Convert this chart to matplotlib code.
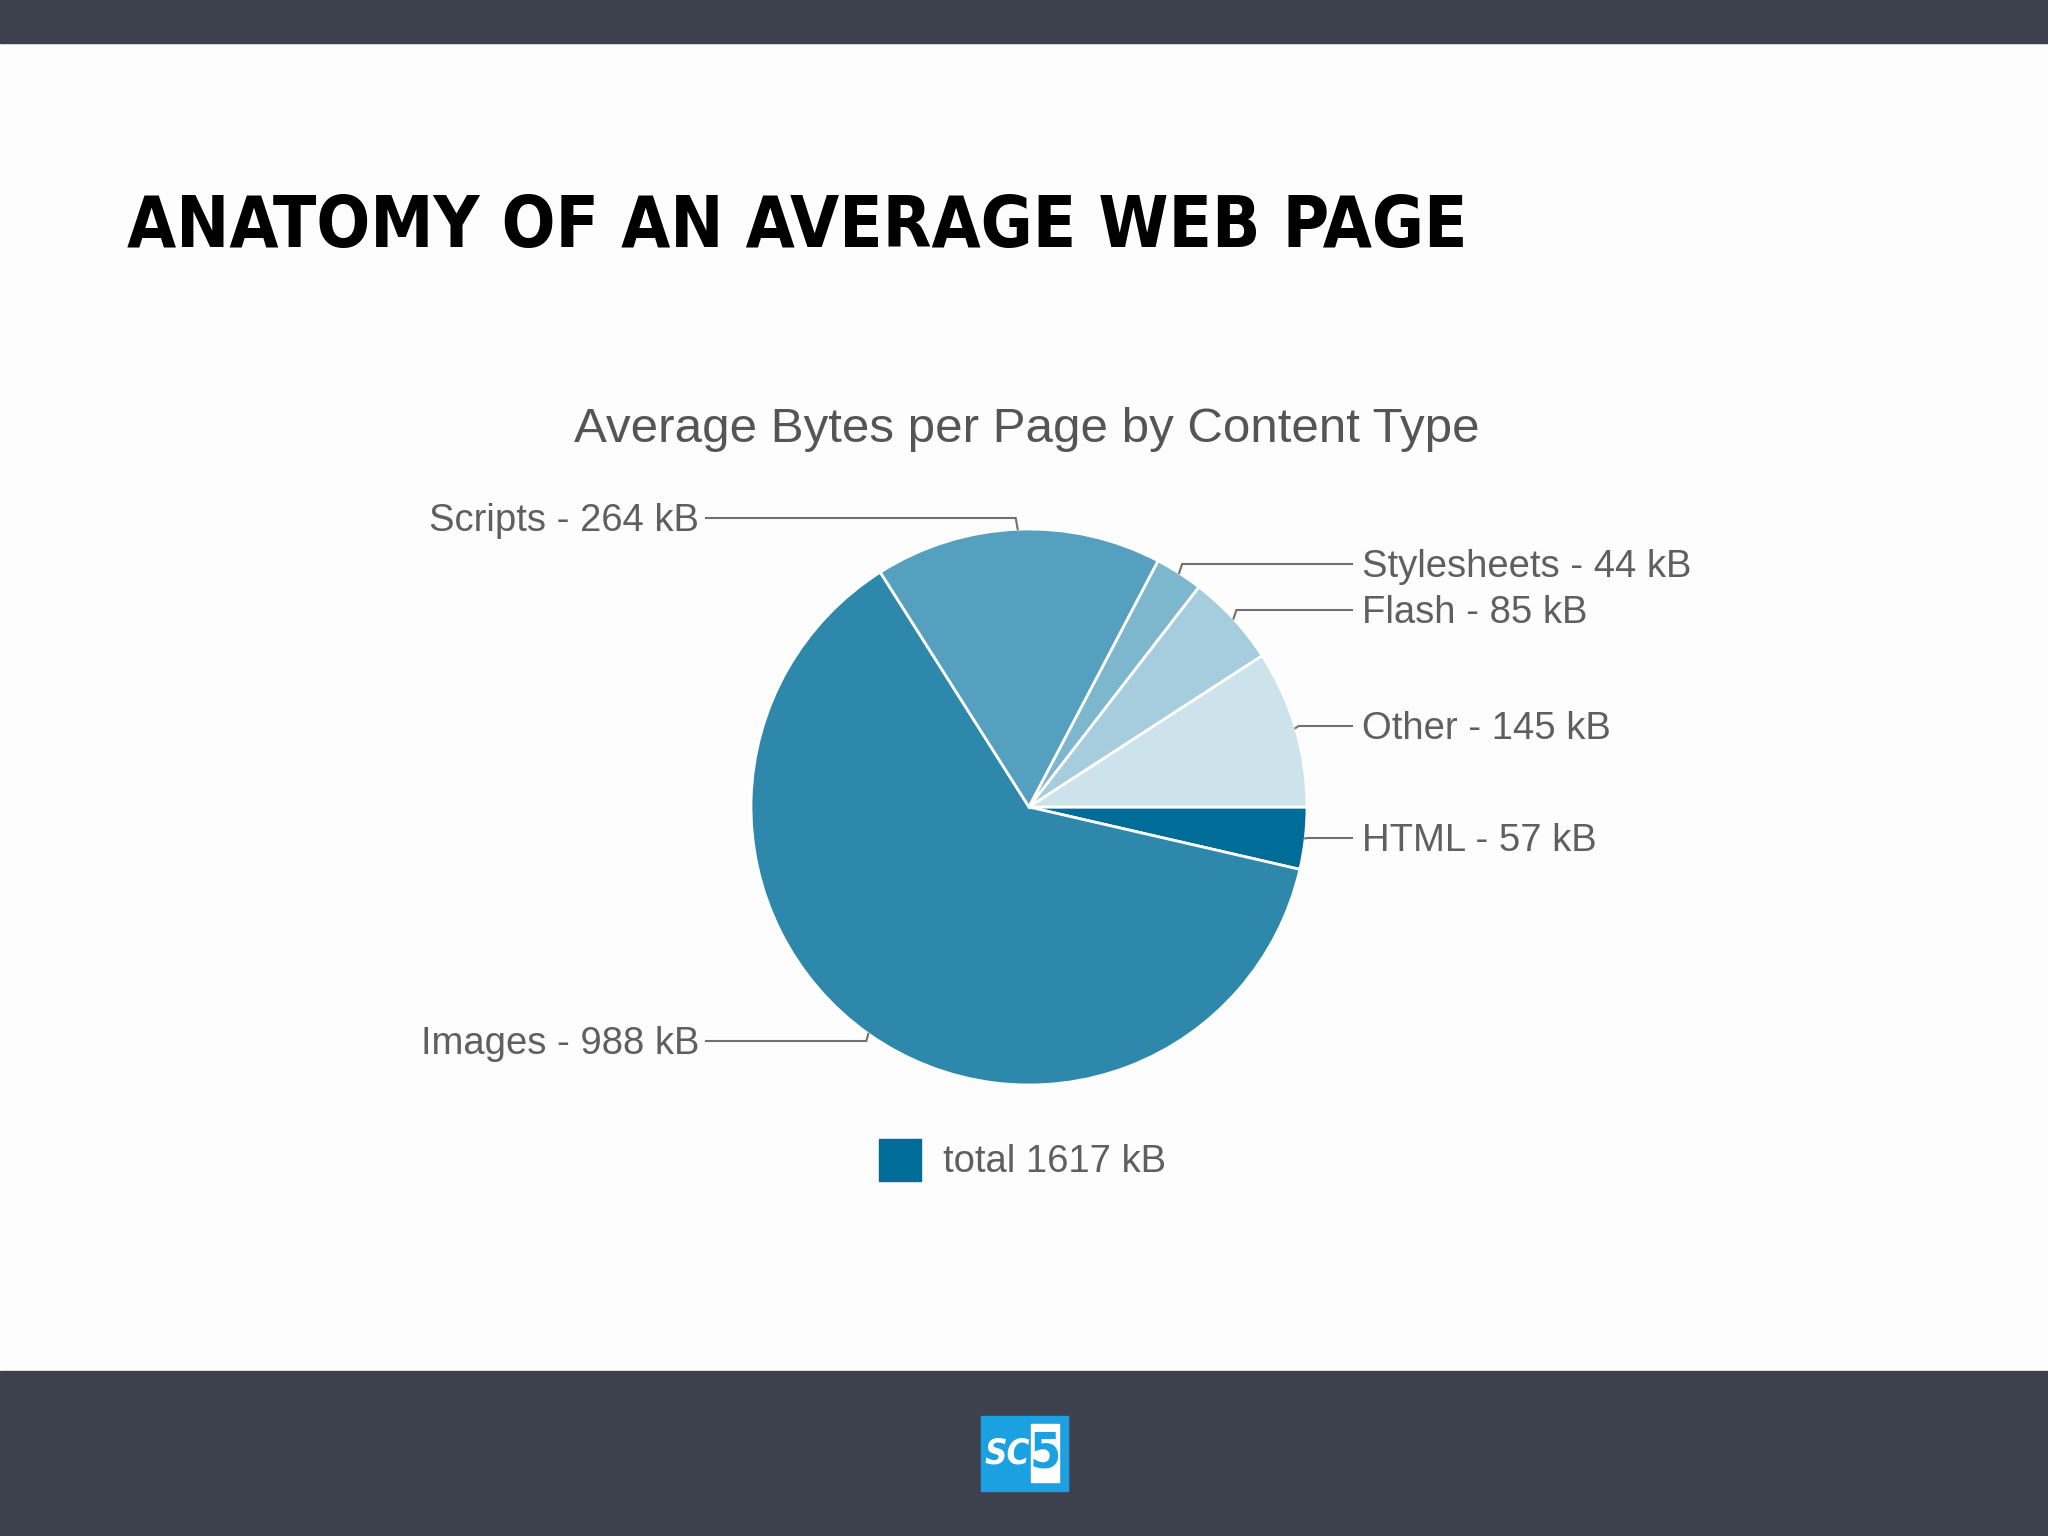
import numpy as np
import matplotlib.pyplot as plt
from matplotlib.patches import Rectangle

W, H = 2048, 1536

# data
categories = ["HTML", "Images", "Scripts", "Stylesheets", "Flash", "Other"]
sizes_kb = [57, 988, 264, 44, 85, 145]
total_kb = 1617
slice_colors = ["#006d98", "#2d88ab", "#55a0bf", "#7db7cd", "#a6cddd", "#cde3eb"]

slide_title = "ANATOMY OF AN AVERAGE WEB PAGE"
chart_title = "Average Bytes per Page by Content Type"

# where each label row sits (pixels from top) and on which side
label_rows = [838, 1041, 518, 564, 610, 726]
label_side = ["right", "left", "left", "right", "right", "right"]

dark = "#3d414d"
text_gray = "#5f5f5f"
line_gray = "#707070"


def Y(y):
    # top-down pixel -> data y
    return H - y


fig = plt.figure(figsize=(W / 100, H / 100), dpi=100, facecolor="#fdfdfd")
ax = fig.add_axes([0, 0, 1, 1])
renderer = fig.canvas.get_renderer()


def fit_width(t, target):
    # scale font so the text spans target pixels
    w = t.get_window_extent(renderer).width
    t.set_fontsize(t.get_fontsize() * target / w)


# pie
cx, cy, r = 1029, Y(807), 278
wedges, _ = ax.pie(sizes_kb, colors=slice_colors, startangle=0, counterclock=False,
                   center=(cx, cy), radius=r, frame=True,
                   wedgeprops=dict(edgecolor="white", linewidth=2))
ax.set_xlim(0, W)
ax.set_ylim(0, H)
ax.set_aspect("auto")
ax.axis("off")

# slide bars
ax.add_patch(Rectangle((0, Y(43)), W, 43, color=dark, zorder=0))
ax.add_patch(Rectangle((0, 0), W, H - 1371, color=dark, zorder=0))

# slide title
t = ax.text(127, Y(227), slide_title, fontsize=60, fontweight="heavy",
            family="DejaVu Sans", fontstretch="condensed", color="black",
            ha="left", va="center")
fit_width(t, 1342)

# chart title
ax.text(1027, Y(430), chart_title, fontsize=35.5, color="#555555",
        family="Liberation Sans", ha="center", va="center")

# leader lines + labels
for w, name, val, row, side in zip(wedges, categories, sizes_kb, label_rows, label_side):
    ang = np.deg2rad((w.theta1 + w.theta2) / 2)
    px = cx + r * np.cos(ang)
    py = cy + r * np.sin(ang)
    ly = Y(row)
    if side == "right":
        elbow, end, tx, ha = px + 3, 1352, 1362, "left"
    else:
        elbow, end, tx, ha = px - 2, 706, 699, "right"
    ax.plot([px, elbow, end], [py, ly, ly], color=line_gray, lw=1.5,
            solid_joinstyle="miter", zorder=1)
    ax.text(tx, ly - 3, f"{name} - {val} kB", fontsize=27.5, color=text_gray,
            family="Liberation Sans", ha=ha, va="center")

# legend
ax.add_patch(Rectangle((879, Y(1181)), 42, 42, color=slice_colors[0]))
ax.text(943, Y(1162), f"total {total_kb} kB", fontsize=27.5, color=text_gray,
        family="Liberation Sans", ha="left", va="center")

# logo
ax.add_patch(Rectangle((981, Y(1491)), 87, 75, color="#1ba1e2"))
ax.add_patch(Rectangle((1031, Y(1482)), 28, 58, color="white"))
ax.text(1007, Y(1454), "SC", fontsize=25, fontweight="bold", style="italic",
        family="DejaVu Sans", fontstretch="condensed", color="white",
        ha="center", va="center")
ax.text(1045, Y(1454), "5", fontsize=36, fontweight="bold",
        family="DejaVu Sans", fontstretch="condensed", color="#1ba1e2",
        ha="center", va="center")

fig.savefig("out.png", dpi=100, facecolor=fig.get_facecolor())
